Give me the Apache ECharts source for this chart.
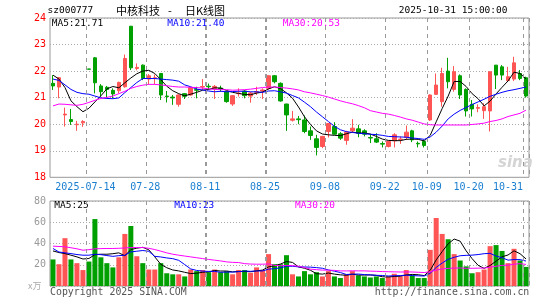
<!DOCTYPE html>
<html><head><meta charset="utf-8">
<script src="https://cdn.jsdelivr.net/npm/echarts@6/dist/echarts.min.js"></script>
<style>html,body{margin:0;padding:0;background:#fff}#c{width:545px;height:300px}</style>
</head><body><div id="c"></div>
<script>
const dates = [
 '2025-07-04','2025-07-07','2025-07-08','2025-07-09','2025-07-10','2025-07-11','2025-07-14','2025-07-15','2025-07-16','2025-07-17',
 '2025-07-18','2025-07-21','2025-07-22','2025-07-23','2025-07-24','2025-07-25','2025-07-28','2025-07-29','2025-07-30','2025-07-31',
 '2025-08-01','2025-08-04','2025-08-05','2025-08-06','2025-08-07','2025-08-08','2025-08-11','2025-08-12','2025-08-13','2025-08-14',
 '2025-08-15','2025-08-18','2025-08-19','2025-08-20','2025-08-21','2025-08-22','2025-08-25','2025-08-26','2025-08-27','2025-08-28',
 '2025-08-29','2025-09-01','2025-09-02','2025-09-03','2025-09-04','2025-09-05','2025-09-08','2025-09-09','2025-09-10','2025-09-11',
 '2025-09-12','2025-09-15','2025-09-16','2025-09-17','2025-09-18','2025-09-19','2025-09-22','2025-09-23','2025-09-24','2025-09-25',
 '2025-09-26','2025-09-29','2025-09-30','2025-10-09','2025-10-10','2025-10-13','2025-10-14','2025-10-15','2025-10-16','2025-10-17',
 '2025-10-20','2025-10-21','2025-10-22','2025-10-23','2025-10-24','2025-10-27','2025-10-28','2025-10-29','2025-10-30','2025-10-31'];

const opens = [21.54,21.40,20.35,20.175,19.98,20.05,22.08,22.50,21.44,21.39,
 21.275,21.26,21.41,23.69,22.10,22.225,21.70,21.73,21.91,21.06,
 21.02,20.75,21.15,21.10,21.30,21.40,21.43,21.35,21.36,21.225,
 20.76,21.15,21.25,21.06,21.20,21.25,21.35,21.825,21.54,20.76,
 20.15,20.20,20.16,19.75,19.45,19.16,19.725,19.91,19.64,19.39,
 19.75,19.825,19.75,19.50,19.45,19.27,19.16,19.375,19.42,19.50,
 19.75,19.28,19.35,20.16,21.125,20.85,22.00,21.31,21.825,21.31,
 20.75,20.60,20.51,20.50,22.225,22.16,21.64,21.70,21.91,21.75];
const closes = [21.44,21.75,20.38,20.10,20.00,20.10,22.07,21.56,21.225,21.31,
 21.14,21.575,22.475,22.125,22.14,21.725,21.825,21.75,21.10,21.04,
 20.99,21.10,21.05,21.375,21.28,21.42,21.41,21.425,21.34,20.85,
 21.075,21.17,21.075,21.175,21.225,21.29,21.825,21.60,20.875,20.35,
 20.20,20.17,19.725,19.575,19.125,19.54,20.025,19.625,19.475,19.70,
 19.85,19.66,19.625,19.48,19.325,19.25,19.35,19.60,19.44,19.70,
 19.41,19.26,19.20,21.10,21.475,21.91,21.60,21.975,21.10,20.50,
 20.575,20.625,20.66,21.975,21.85,21.85,21.79,22.31,21.725,21.06];
const highs = [21.85,21.78,20.625,20.575,20.125,20.15,22.08,22.53,21.51,21.44,
 21.35,21.60,22.625,23.70,22.29,22.25,21.89,21.87,21.93,21.25,
 21.10,21.125,21.175,21.41,21.41,21.70,21.53,21.475,21.45,21.25,
 21.10,21.35,21.29,21.225,21.41,21.35,21.83,21.85,21.575,20.77,
 20.50,20.31,20.325,19.91,19.60,19.56,20.04,20.075,19.70,19.75,
 20.19,19.975,19.81,19.625,19.66,19.35,19.375,19.66,19.54,19.95,
 19.79,19.35,19.41,21.125,21.91,22.125,22.50,22.19,21.875,21.35,
 20.91,20.75,20.79,21.98,22.23,22.225,22.16,22.54,22.04,21.79];
const lows = [21.29,20.975,19.91,19.975,19.75,19.90,22.07,21.16,21.04,21.00,
 20.975,21.16,21.375,22.04,22.03,21.66,21.50,21.50,20.91,20.82,
 20.73,20.66,20.95,21.075,20.975,21.29,21.29,20.95,21.225,20.81,
 20.69,21.04,20.975,20.81,21.10,20.95,21.30,21.54,20.85,19.75,
 20.10,20.00,19.66,19.41,18.825,19.10,19.50,19.60,19.41,19.225,
 19.70,19.51,19.54,19.29,19.29,19.125,19.125,19.125,19.26,19.41,
 19.325,19.125,19.125,20.125,21.10,20.66,21.35,21.225,20.95,20.29,
 20.29,20.45,20.20,19.725,21.325,21.66,21.60,21.625,21.66,21.00];

const ma5 = [21.85,21.70,21.38,20.88,20.66,20.47,20.60,20.84,21.07,21.33,
 21.42,21.37,21.56,21.74,21.90,22.00,22.03,21.91,21.68,21.43,
 21.26,21.15,21.07,21.13,21.20,21.28,21.31,21.37,21.36,21.27,
 21.20,21.16,21.12,21.11,21.17,21.21,21.33,21.41,21.34,21.18,
 20.98,20.65,20.28,19.99,19.75,19.63,19.60,19.58,19.57,19.64,
 19.70,19.67,19.67,19.63,19.54,19.44,19.39,19.38,19.38,19.43,
 19.44,19.43,19.37,19.58,20.09,20.59,21.06,21.61,21.61,21.42,
 21.15,20.96,20.69,20.87,21.14,21.39,21.63,21.96,21.91,21.71];
const ma10 = [21.70,21.65,21.48,21.31,21.20,21.15,21.13,21.06,20.99,20.97,
 20.96,20.99,21.19,21.38,21.57,21.72,21.72,21.72,21.70,21.68,
 21.66,21.62,21.48,21.41,21.32,21.29,21.25,21.22,21.24,21.22,
 21.23,21.24,21.24,21.22,21.22,21.20,21.25,21.26,21.22,21.17,
 21.08,20.99,20.83,20.66,20.46,20.28,20.10,19.92,19.79,19.72,
 19.69,19.66,19.64,19.62,19.61,19.58,19.54,19.53,19.52,19.51,
 19.48,19.46,19.43,19.52,19.70,19.93,20.20,20.38,20.52,20.63,
 20.74,20.84,20.94,21.05,21.13,21.20,21.26,21.30,21.35,21.40];
const ma30 = [20.69,20.76,20.75,20.73,20.71,20.75,20.82,20.90,20.97,21.01,
 21.06,21.15,21.24,21.35,21.42,21.47,21.50,21.50,21.48,21.45,
 21.42,21.40,21.40,21.39,21.38,21.36,21.33,21.31,21.30,21.30,
 21.28,21.29,21.30,21.32,21.35,21.38,21.40,21.40,21.38,21.36,
 21.33,21.29,21.22,21.18,21.13,21.08,21.02,20.95,20.88,20.82,
 20.77,20.70,20.62,20.51,20.46,20.41,20.38,20.33,20.27,20.20,
 20.15,20.08,20.01,19.98,19.97,19.97,19.97,19.97,19.97,19.97,
 19.99,20.01,20.04,20.10,20.14,20.20,20.29,20.35,20.41,20.53];

const volumes = [25,20.5,45,25,21.5,15,23,63,27,21.5,
 17.5,27,49,56.5,28,21.5,15.5,15.5,21.5,12,
 11,11,9,15.5,14,15,13,15.5,13,14,
 11,15,15,12.5,17.5,15,30,20.5,20.5,29,
 11,9,14,11,13,9,14,9,7.5,11,
 14,10,9,8,9,7.5,9,11.5,9,15,
 10,7.5,7.5,34,64,49,44,30,24,18.5,
 12,13,15.5,37.5,38.5,33,21.5,35,24,18];
const volMa5 = [33,31.5,30.5,29,27.4,25.4,25.9,29.5,29.9,29.9,
 30.4,31.2,28.4,34.3,35.6,36.4,34.1,27.4,20.4,17.2,
 15.1,14.2,12.9,11.7,12.1,12.9,13.3,14.6,14.1,14.1,
 13.3,13.7,13.6,13.5,14.2,15,18,19.1,20.7,23,
 22.2,18,16.7,14.8,11.6,11.2,12.2,11.2,10.5,10.1,
 11.1,10.3,10.3,10.4,10,8.7,8.5,9,9.2,10.4,
 10.9,10.6,9.8,14.8,24.6,32.4,39.7,44.2,42.2,33.1,
 25.7,19.5,16.6,19.3,23.3,27.5,29.2,33.1,30.4,25.5];
const volMa10 = [35.3,32,31.2,30.5,29.6,29,29,29.9,29.5,28.65,
 27.9,28.55,28.95,32.1,32.75,33.4,32.65,27.9,27.35,26.4,
 25.75,24.15,20.15,16.05,14.65,14,13.75,13.75,12.9,13.1,
 13.1,13.5,14.1,13.8,14.15,14.15,15.85,16.35,17.1,18.6,
 18.6,18,17.9,17.75,17.3,16.7,15.1,13.95,12.65,10.85,
 11.15,11.25,10.75,10.45,10.05,9.9,9.4,9.65,9.8,10.2,
 9.8,9.55,9.4,12,17.5,21.65,25.15,27,28.5,28.85,
 29.05,29.6,30.4,30.75,28.2,26.6,24.35,24.85,24.85,23.5];
const volMa30 = [37.5,37.2,36.9,36,35,33.7,34.2,35,35.2,35.3,
 35.3,35.5,35.8,36.2,36.2,36.2,35.5,34.3,32.8,31.2,
 29.9,29,28.2,27.4,26.6,25.8,25,24.3,23.6,22.7,
 22.25,22.07,21.07,20.65,20.52,20.52,20.75,19.33,19.12,19.37,
 19.15,18.55,17.38,15.87,15.37,14.95,14.9,14.68,14.22,14.18,
 14.28,14.25,14.25,14,13.83,13.58,13.45,13.32,13.18,13.22,
 13.18,12.93,12.68,13.4,14.95,16.08,16.55,16.87,16.98,16.63,
 16.67,16.8,16.85,17.73,18.58,19.38,19.63,20.5,21.05,20.3];

const tickDates = ['2025-07-14','2025-07-28','2025-08-11','2025-08-25','2025-09-08','2025-09-22','2025-10-09','2025-10-20','2025-10-31'];
const tickLabels = ['2025-07-14','07-28','08-11','08-25','09-08','09-22','10-09','10-20','10-31'];
const priceTicks = [18, 19, 20, 21, 22, 23, 24];
const volTicks = [0, 20, 40, 60, 80];

const UP = '#ff5555', DOWN = '#00a000', SEP = '#999999';
const MONO = '"DejaVu Sans Mono", monospace';
const CJK = '"Noto Sans CJK SC", sans-serif';

const kData = dates.map((d, i) => [opens[i], closes[i], lows[i], highs[i]]);
const volData = volumes.map((v, i) => ({value: v, itemStyle: {color: closes[i] >= opens[i] ? UP : DOWN}}));
const isTick = (i, v) => tickDates.indexOf(v) >= 0;
const tickIdx = tickDates.map(d => dates.indexOf(d));

const chart = echarts.init(document.getElementById('c'));
const lineS = (name, data, color, xi) => ({
  name, type: 'line', data, xAxisIndex: xi, yAxisIndex: xi, showSymbol: false, symbol: 'none',
  silent: true, lineStyle: {color, width: 1}, z: 5
});
const sepSeries = (xi, yRef) => ({
  type: 'custom', xAxisIndex: xi, yAxisIndex: xi, z: 10,
  data: tickIdx.map(i => [i, yRef]),
  renderItem: (params, api) => {
    const c = api.coord([api.value(0), api.value(1)]);
    const band = api.size([1, 0])[0];
    const x = Math.round(c[0] - band / 2) + 0.5;
    const cs = params.coordSys;
    return {type: 'line', z2: 10, shape: {x1: x, y1: cs.y, x2: x, y2: cs.y + cs.height},
            style: {stroke: SEP, lineWidth: 1, lineDash: [4, 4]}};
  }
});
const txt = (text, x, y, fill, font, align) => ({
  type: 'text', x, y, silent: true,
  style: {text, fill, font, align: align || 'left', verticalAlign: 'middle'}
});
const catAxis = (gi, withLabels) => ({
  type: 'category', gridIndex: gi, data: dates, boundaryGap: true,
  axisLine: {show: false},
  axisTick: {show: true, interval: isTick, length: 0, lineStyle: {color: SEP}},
  axisLabel: withLabels ? {interval: isTick, color: '#1a7fd0', fontFamily: MONO, fontSize: 10, margin: 5,
     formatter: v => { const k = tickDates.indexOf(v); return (k === tickDates.length - 1 ? '{e|' : '{n|') + tickLabels[k] + '}'; },
     rich: {n: {padding: [0, 7, 0, 0], color: '#1a7fd0', fontFamily: MONO, fontSize: 10},
            e: {padding: [0, 36, 0, 0], color: '#1a7fd0', fontFamily: MONO, fontSize: 10}}} : {show: false},
  splitLine: {show: true, interval: isTick, lineStyle: {color: SEP, type: [4, 4], width: 1}}
});

chart.setOption({
  animation: false,
  backgroundColor: '#fff',
  grid: [
    {left: 50, right: 16, top: 18, height: 159.3, show: true, borderColor: '#999', borderWidth: 1},
    {left: 50, right: 16, top: 201, height: 85, show: true, borderColor: '#999', borderWidth: 1}
  ],
  xAxis: [catAxis(0, true), catAxis(1, false)],
  yAxis: [
    {type: 'value', gridIndex: 0, min: priceTicks[0], max: priceTicks[priceTicks.length - 1], interval: 1,
     axisLine: {show: false}, axisTick: {show: false},
     axisLabel: {color: '#f00', fontFamily: MONO, fontSize: 10, margin: 4},
     splitLine: {show: true, lineStyle: {color: '#aaa', type: [1, 2]}}},
    {type: 'value', gridIndex: 1, min: volTicks[0], max: volTicks[volTicks.length - 1], interval: 20,
     axisLine: {show: false}, axisTick: {show: false},
     axisLabel: {color: '#999', fontFamily: MONO, fontSize: 10, margin: 4, formatter: v => v === 0 ? '' : v},
     splitLine: {show: true, lineStyle: {color: '#aaa', type: [1, 2]}}}
  ],
  series: [
    {name: 'K', type: 'candlestick', data: kData, xAxisIndex: 0, yAxisIndex: 0, barWidth: 4,
     itemStyle: {color: UP, color0: DOWN, borderColor: UP, borderColor0: DOWN, borderWidth: 1}, z: 3},
    lineS('MA5', ma5, '#000', 0),
    lineS('MA10', ma10, '#0000ff', 0),
    lineS('MA30', ma30, '#ff00ff', 0),
    {name: 'VOL', type: 'bar', data: volData, xAxisIndex: 1, yAxisIndex: 1, barWidth: 5, z: 3},
    lineS('VMA5', volMa5, '#000', 1),
    lineS('VMA10', volMa10, '#0000ff', 1),
    lineS('VMA30', volMa30, '#ff00ff', 1),
    sepSeries(0, 21),
    sepSeries(1, 40)
  ]
});

// separators also as graphic lines placed through the category axes' scale
const sepLines = [];
[[0, priceTicks[0], priceTicks[priceTicks.length - 1]], [1, volTicks[0], volTicks[volTicks.length - 1]]].forEach(([ai, lo, hi]) => {
  const y1 = chart.convertToPixel({xAxisIndex: ai, yAxisIndex: ai}, [dates[0], hi]);
  const y2 = chart.convertToPixel({xAxisIndex: ai, yAxisIndex: ai}, [dates[0], lo]);
  const c0 = chart.convertToPixel({xAxisIndex: ai, yAxisIndex: ai}, [0, lo]);
  const c1 = chart.convertToPixel({xAxisIndex: ai, yAxisIndex: ai}, [1, lo]);
  if (!y1 || !y2 || !c0 || !c1) return;
  const band = c1[0] - c0[0];
  tickIdx.forEach(i => {
    const c = chart.convertToPixel({xAxisIndex: ai, yAxisIndex: ai}, [i, lo]);
    if (!c) return;
    const x = Math.round(c[0] - band / 2) + 0.5;
    if (isFinite(x) && isFinite(y1[1]) && isFinite(y2[1])) {
      sepLines.push({type: 'line', silent: true, z: 10,
        shape: {x1: x, y1: y1[1], x2: x, y2: y2[1]},
        style: {stroke: SEP, lineWidth: 1, lineDash: [4, 4]}});
    }
  });
});

chart.setOption({
  graphic: sepLines.concat([
    txt('sz000777', 47.5, 11, '#000', '9.5px ' + MONO),
    txt('中核科技', 116, 10.5, '#000', '11px ' + CJK),
    txt('-', 168, 10.5, '#000', '11px ' + CJK),
    txt('日K线图', 185, 10.5, '#000', '11px ' + CJK),
    txt('2025-10-31 15:00:00', 507.5, 11, '#000', '9.5px ' + MONO, 'right'),
    txt('MA5:21.71', 51.7, 23.5, '#000', '9.5px ' + MONO),
    txt('MA10:21.40', 167.3, 23.5, '#0000ff', '9.5px ' + MONO),
    txt('MA30:20.53', 282.7, 23.5, '#ff00ff', '9.5px ' + MONO),
    txt('MA5:25', 54.3, 206, '#000', '9.5px ' + MONO),
    txt('MA10:23', 174.3, 206, '#0000ff', '9.5px ' + MONO),
    txt('MA30:20', 295, 206, '#ff00ff', '9.5px ' + MONO),
    txt('x万', 28, 286, '#aaa', '9px ' + CJK),
    txt('Copyright 2025 SINA.COM', 50, 292.3, '#555', '9.9px ' + MONO),
    txt('http://finance.sina.com.cn', 529.3, 292.3, '#555', '9.9px ' + MONO, 'right'),
    txt('sina', 498, 163, '#d4d4d4', 'italic bold 15px "DejaVu Sans", sans-serif')
  ])
});
</script></body></html>
